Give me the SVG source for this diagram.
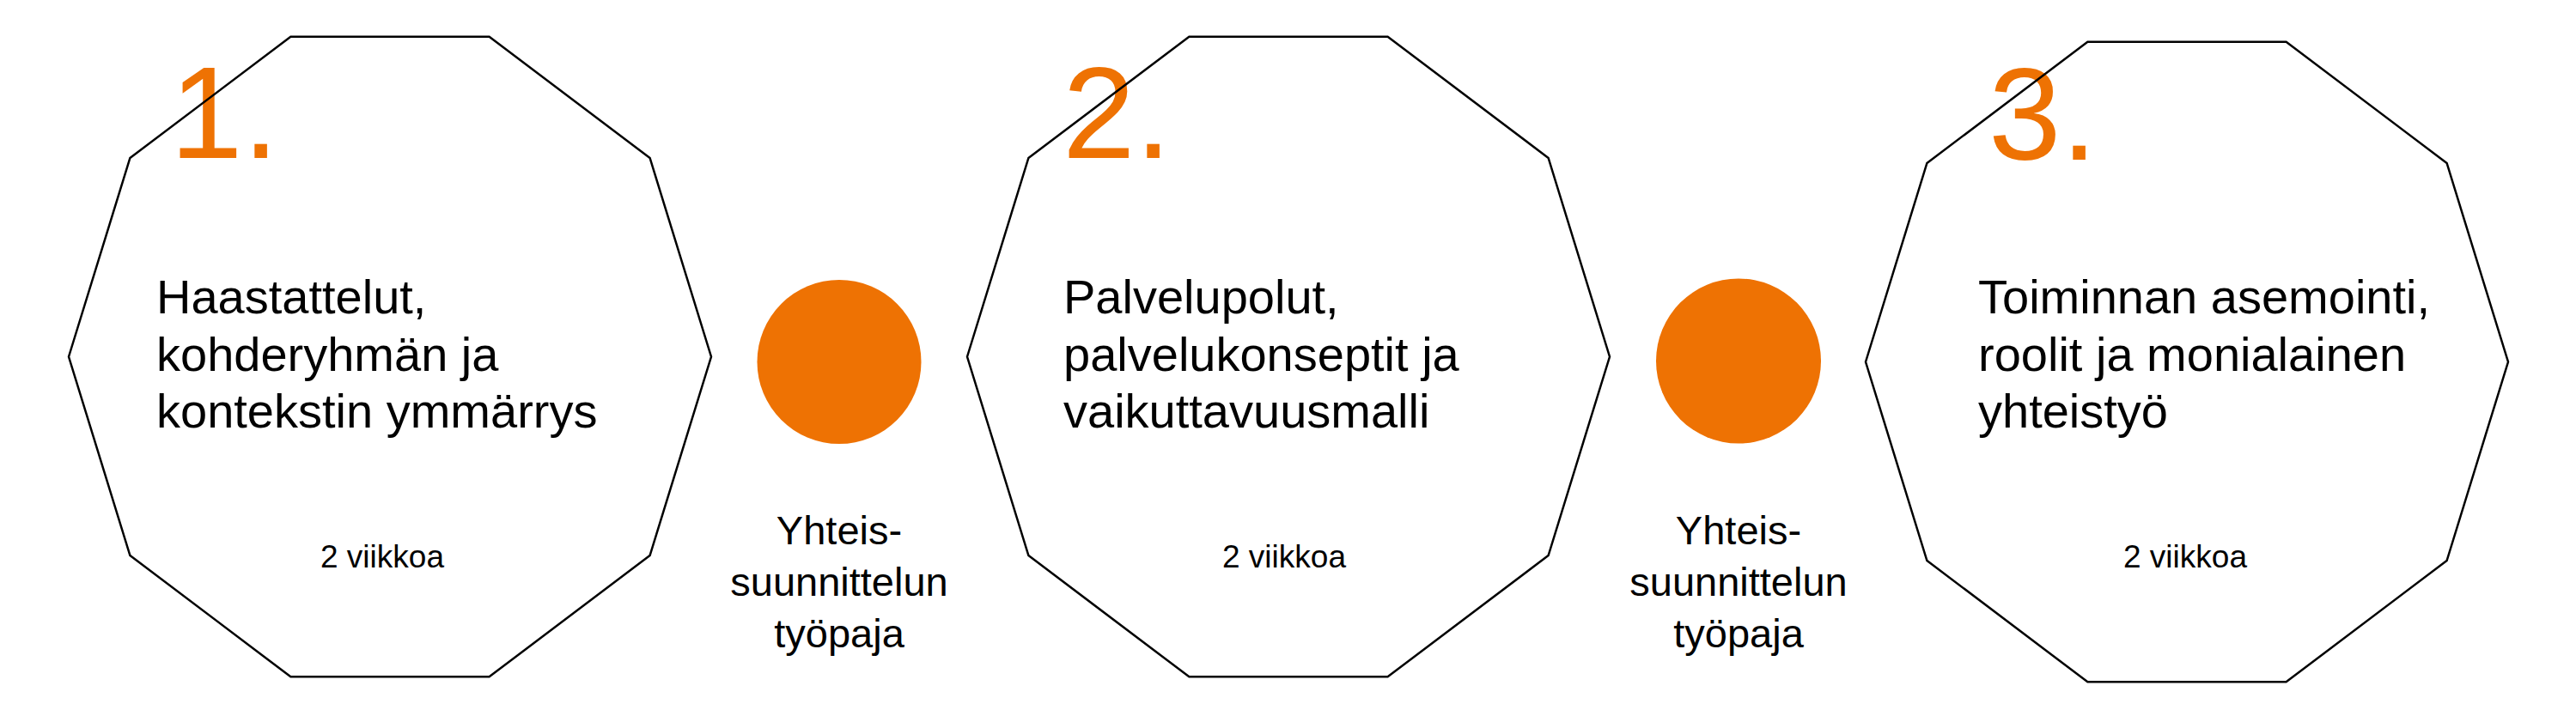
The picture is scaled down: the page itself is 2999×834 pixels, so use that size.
<svg xmlns="http://www.w3.org/2000/svg" xmlns:xlink="http://www.w3.org/1999/xlink" width="2999" height="834" viewBox="0 0 2999 834">
  <style>
    .num { font-family: "Liberation Sans", Arial, sans-serif; font-size: 152px; fill: #EE7203; }
    .main { font-family: "Liberation Sans", Arial, sans-serif; font-size: 56px; fill: #000; }
    .dur { font-family: "Liberation Sans", Arial, sans-serif; font-size: 37px; fill: #000; text-anchor: middle; }
    .ws { font-family: "Liberation Sans", Arial, sans-serif; font-size: 47px; fill: #000; text-anchor: middle; }
    .deca { fill: none; stroke: #000; stroke-width: 2.5; stroke-linejoin: miter; }
    .dot { fill: #EE7203; }
  </style>
  <defs>
    <polygon id="decagon" points="-374,0 -302.6,-231.5 -115.6,-372.8 115.6,-372.8 302.6,-231.5 374,0 302.6,231.5 115.6,372.8 -115.6,372.8 -302.6,231.5"/>
  </defs>
  <rect x="0" y="0" width="2999" height="834" fill="#fff"/>

  <g id="step1">
    <text class="num" x="198" y="184">1.</text>
    <use xlink:href="#decagon" class="deca" transform="translate(454,415.5)"/>
    <text class="main" x="182" y="365">Haastattelut,</text>
    <text class="main" x="182" y="431.5">kohderyhmän ja</text>
    <text class="main" x="182" y="498">kontekstin ymmärrys</text>
    <text class="dur" x="445" y="661">2 viikkoa</text>
  </g>

  <g id="workshop1">
    <circle class="dot" cx="977" cy="421.5" r="95.5"/>
    <text class="ws" x="977" y="634">Yhteis-</text>
    <text class="ws" x="977" y="694">suunnittelun</text>
    <text class="ws" x="977" y="754">työpaja</text>
  </g>

  <g id="step2">
    <text class="num" x="1237" y="184">2.</text>
    <use xlink:href="#decagon" class="deca" transform="translate(1500,415.5)"/>
    <text class="main" x="1238" y="365">Palvelupolut,</text>
    <text class="main" x="1238" y="431.5">palvelukonseptit ja</text>
    <text class="main" x="1238" y="498">vaikuttavuusmalli</text>
    <text class="dur" x="1495" y="661">2 viikkoa</text>
  </g>

  <g id="workshop2">
    <circle class="dot" cx="2024" cy="420.5" r="96"/>
    <text class="ws" x="2024" y="634">Yhteis-</text>
    <text class="ws" x="2024" y="694">suunnittelun</text>
    <text class="ws" x="2024" y="754">työpaja</text>
  </g>

  <g id="step3">
    <text class="num" x="2315" y="185.5">3.</text>
    <use xlink:href="#decagon" class="deca" transform="translate(2546,421.5)"/>
    <text class="main" x="2303" y="365">Toiminnan asemointi,</text>
    <text class="main" x="2303" y="431.5">roolit ja monialainen</text>
    <text class="main" x="2303" y="498">yhteistyö</text>
    <text class="dur" x="2544" y="661">2 viikkoa</text>
  </g>

  <g id="connectors"></g>
</svg>
